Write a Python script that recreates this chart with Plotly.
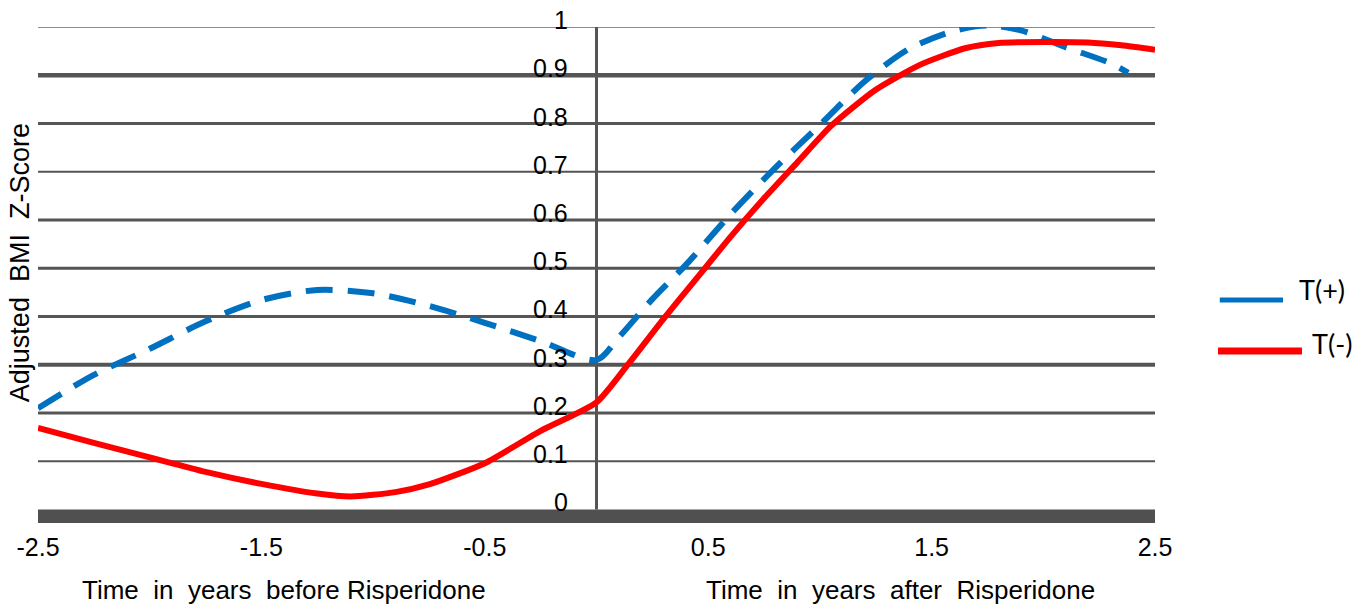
import plotly.graph_objects as go

# ---- data ----
x_tick_vals = [-2.5, -1.5, -0.5, 0.5, 1.5, 2.5]
x_tick_text = ["-2.5", "-1.5", "-0.5", "0.5", "1.5", "2.5"]
y_tick_vals = [0, 0.1, 0.2, 0.3, 0.4, 0.5, 0.6, 0.7, 0.8, 0.9, 1.0]
y_tick_text = ["0", "0.1", "0.2", "0.3", "0.4", "0.5", "0.6", "0.7", "0.8", "0.9", "1"]

t_plus_x = [-2.5, -2.25, -2.0, -1.75, -1.5, -1.25, -1.0, -0.75, -0.5, -0.25, 0.0,
            0.1, 0.25, 0.4, 0.6, 0.8, 1.0, 1.2, 1.4, 1.6, 1.75, 1.9, 2.1, 2.3, 2.38]
t_plus_y = [0.21, 0.279, 0.333, 0.39, 0.434, 0.455, 0.448, 0.422, 0.387, 0.349, 0.31,
            0.357, 0.436, 0.507, 0.612, 0.708, 0.797, 0.887, 0.955, 0.992, 1.003, 0.993, 0.958, 0.925, 0.905]

t_minus_x = [-2.5, -2.25, -2.0, -1.75, -1.5, -1.25, -1.1, -0.9, -0.75, -0.5, -0.25, 0.0,
             0.14, 0.3, 0.45, 0.6, 0.75, 0.9, 1.05, 1.25, 1.45, 1.65, 1.8, 2.0, 2.2, 2.35, 2.5]
t_minus_y = [0.169, 0.138, 0.108, 0.078, 0.053, 0.033, 0.027, 0.036, 0.052, 0.096, 0.163, 0.222,
             0.30, 0.395, 0.48, 0.565, 0.645, 0.72, 0.795, 0.87, 0.922, 0.956, 0.967, 0.969, 0.968, 0.962, 0.953]

series_names = ["T(+)", "T(-)"]

# ---- styles ----
grid_widths = [0, 2, 3, 4, 3, 3, 3, 2, 3, 4.5, 2]
grid_colors = ["#555555"] * 10 + ["#8c8c8c"]
BLUE = "#0070C0"
RED = "#FF0000"
BAR_BOTTOM = -0.028
FONT = "Liberation Sans, Arial"

fig = go.Figure()

fig.add_trace(go.Scatter(x=t_plus_x, y=t_plus_y, mode="lines", name=series_names[0],
                         line=dict(color=BLUE, width=6, dash="27px,15px", shape="spline", smoothing=0.8),
                         showlegend=False))
fig.add_trace(go.Scatter(x=t_minus_x, y=t_minus_y, mode="lines", name=series_names[1],
                         line=dict(color=RED, width=6, shape="spline", smoothing=0.6),
                         showlegend=False))

shapes = []
for v, w, c in zip(y_tick_vals, grid_widths, grid_colors):
    if w > 0:
        shapes.append(dict(type="line", xref="x", yref="y", x0=x_tick_vals[0], x1=x_tick_vals[-1],
                           y0=v, y1=v, line=dict(color=c, width=w), layer="below"))
# vertical axis line at 0
shapes.append(dict(type="line", xref="x", yref="y", x0=0, x1=0, y0=0, y1=1,
                   line=dict(color="#555555", width=3), layer="below"))
# thick bottom bar
shapes.append(dict(type="rect", xref="x", yref="y", x0=x_tick_vals[0], x1=x_tick_vals[-1],
                   y0=BAR_BOTTOM, y1=0, fillcolor="#505050", line=dict(width=0), layer="below"))
# legend samples
shapes.append(dict(type="line", xref="paper", yref="paper", x0=1.058, x1=1.1146, y0=0.4496, y1=0.4496,
                   line=dict(color=BLUE, width=5)))
shapes.append(dict(type="line", xref="paper", yref="paper", x0=1.0564, x1=1.1316, y0=0.3468, y1=0.3468,
                   line=dict(color=RED, width=7)))

annotations = [
    dict(text=series_names[0], xref="paper", yref="paper", x=1.1271, y=0.4698, xanchor="left", yanchor="middle",
         showarrow=False, font=dict(family="Lato, Liberation Sans", size=27, color="#000000")),
    dict(text=series_names[1], xref="paper", yref="paper", x=1.1388, y=0.3629, xanchor="left", yanchor="middle",
         showarrow=False, font=dict(family="Lato, Liberation Sans", size=27, color="#000000")),
    dict(text="Adjusted\u00a0\u00a0BMI\u00a0\u00a0Z-Score", xref="paper", yref="paper", x=-0.0165, y=0.525,
         textangle=-90, xanchor="center", yanchor="middle", showarrow=False,
         font=dict(family=FONT, size=27, color="#000000")),
    dict(text="Time\u00a0\u00a0in\u00a0\u00a0years\u00a0\u00a0before Risperidone", xref="paper", yref="paper",
         x=(284 - 38) / 1117, y=(523 - 590) / 496, xanchor="center", yanchor="middle", showarrow=False,
         font=dict(family=FONT, size=26, color="#000000")),
    dict(text="Time\u00a0\u00a0in\u00a0\u00a0years\u00a0\u00a0after\u00a0\u00a0Risperidone", xref="paper", yref="paper",
         x=(900 - 38) / 1117, y=(523 - 590) / 496, xanchor="center", yanchor="middle", showarrow=False,
         font=dict(family=FONT, size=26, color="#000000")),
]
# y tick labels drawn as annotations next to the vertical axis at x = 0
for v, t in zip(y_tick_vals, y_tick_text):
    annotations.append(dict(text=t, xref="x", yref="y", x=0, y=v, xanchor="right", yanchor="middle",
                            xshift=-27, yshift=7, height=22, valign="middle", showarrow=False,
                            font=dict(family=FONT, size=25, color="#000000")))

fig.update_layout(
    width=1369, height=614,
    margin=dict(l=38, r=214, t=27, b=91),
    paper_bgcolor="white", plot_bgcolor="white",
    shapes=shapes, annotations=annotations,
    xaxis=dict(range=[-2.5, 2.5], tickvals=x_tick_vals, ticktext=x_tick_text, showgrid=False,
               zeroline=False, showline=False, ticks="", ticklabelstandoff=7,
               tickfont=dict(family=FONT, size=25, color="#000000")),
    yaxis=dict(range=[BAR_BOTTOM, 1.0], showticklabels=False, showgrid=False,
               zeroline=False, showline=False, ticks=""),
)

fig.write_html("out.html", config={"displayModeBar": False},
               post_script="document.body.style.margin='0';document.body.style.overflow='hidden';")
